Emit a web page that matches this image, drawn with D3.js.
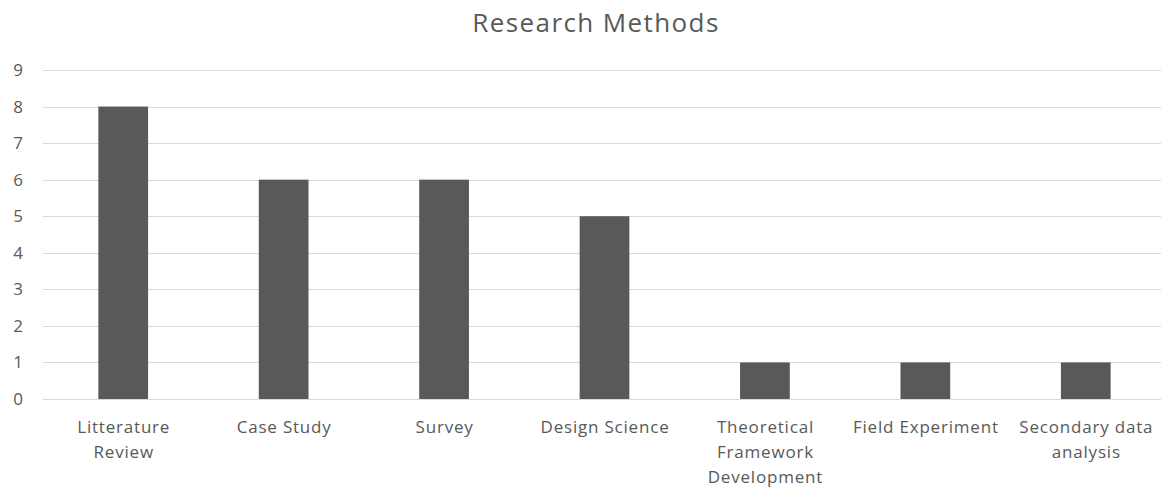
<!DOCTYPE html>
<html>
<head>
<meta charset="utf-8">
<script src="https://cdn.jsdelivr.net/npm/d3@7"></script>
<style>
  html, body { margin: 0; padding: 0; background: #fff; }
  svg { display: block; }
  text { font-family: "Open Sans", Lato, sans-serif; fill: #595959; }
</style>
</head>
<body>
<svg id="chart" width="1161" height="492"></svg>
<script>
// Research method counts
const categories = [
  ["Litterature", "Review"],
  ["Case Study"],
  ["Survey"],
  ["Design Science"],
  ["Theoretical", "Framework", "Development"],
  ["Field Experiment"],
  ["Secondary data", "analysis"]
];
const counts = [8, 6, 6, 5, 1, 1, 1];
const yTicks = [0, 1, 2, 3, 4, 5, 6, 7, 8, 9];
const title = "Research Methods";

(function draw() {
  const svg = d3.select("#chart");
  const W = 1161;
  const plotLeft = 43, plotRight = 1166, plotTop = 70, plotBottom = 399;

  const x = d3.scaleBand()
    .domain(d3.range(categories.length))
    .range([plotLeft, plotRight])
    .paddingInner(0.69)
    .paddingOuter(0.345);

  const y = d3.scaleLinear().domain([0, 9]).range([plotBottom, plotTop]);

  // title
  svg.append("text")
    .attr("x", 596).attr("y", 32)
    .attr("text-anchor", "middle")
    .style("font-size", "26px")
    .style("letter-spacing", "1.4px")
    .text(title);

  // horizontal gridlines
  svg.append("g").selectAll("line")
    .data(yTicks)
    .join("line")
    .attr("x1", plotLeft).attr("x2", W)
    .attr("y1", d => Math.round(y(d)) + 0.5)
    .attr("y2", d => Math.round(y(d)) + 0.5)
    .attr("stroke", "#d9d9d9")
    .attr("stroke-width", 1);

  // y axis labels
  const yAxis = d3.axisLeft(y).tickValues(yTicks).tickSize(0).tickPadding(0);
  const gy = svg.append("g").attr("transform", "translate(23,0)").call(yAxis);
  gy.select(".domain").remove();
  gy.selectAll("text")
    .attr("fill", "#595959")
    .style("font-family", "'Open Sans', Lato, sans-serif")
    .style("font-size", "17px");

  // bars
  svg.append("g").selectAll("rect")
    .data(counts)
    .join("rect")
    .attr("x", (d, i) => x(i))
    .attr("width", x.bandwidth())
    .attr("y", d => y(d))
    .attr("height", d => y(0) - y(d))
    .attr("fill", "#595959");

  // category labels
  const lbl = svg.append("g").selectAll("text")
    .data(categories)
    .join("text")
    .attr("text-anchor", "middle")
    .style("font-size", "17px")
    .style("letter-spacing", "0.8px")
    .attr("transform", (d, i) => `translate(${x(i) + x.bandwidth() / 2 + 0.5},433)`);
  lbl.selectAll("tspan")
    .data(d => d)
    .join("tspan")
    .attr("x", 0)
    .attr("dy", (d, j) => j === 0 ? 0 : 25)
    .text(d => d);
})();
</script>
</body>
</html>
